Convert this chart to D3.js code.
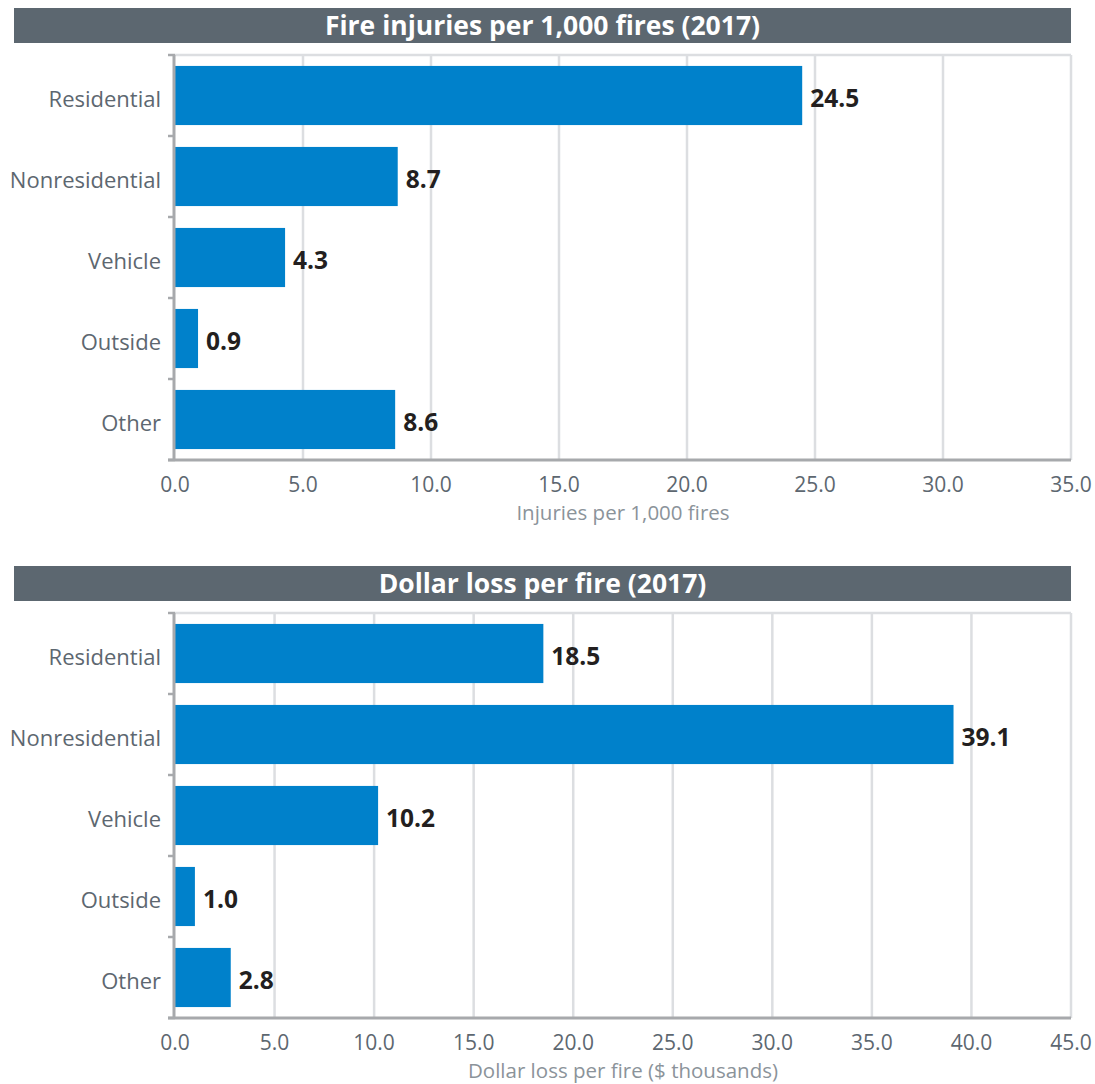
<!DOCTYPE html>
<html>
<head>
<meta charset="utf-8">
<title>Fire injuries and dollar loss</title>
<script src="https://d3js.org/d3.v7.min.js"></script>
<style>
    body { margin: 0; background: #fff; font-family: "Open Sans", sans-serif; }
    .grid line { stroke: #dcdee1; stroke-width: 2.5; }
    .cat { fill: #5d6770; font-size: 22px; }
    .tick-lab { fill: #5d6770; font-size: 21px; }
    .ax-title { fill: #8b939a; font-size: 20.5px; }
    .val { fill: #231f20; font-size: 24.5px; font-weight: bold; }
    .title { fill: #fff; font-size: 26.5px; font-weight: bold; }
</style>
</head>
<body>
<div id="chart"></div>
<script>
// data
var categories = ['Residential', 'Nonresidential', 'Vehicle', 'Outside', 'Other'];
var injuries = [24.5, 8.7, 4.3, 0.9, 8.6];
var dollarLoss = [18.5, 39.1, 10.2, 1.0, 2.8];
var injuryTicks = [0, 5, 10, 15, 20, 25, 30, 35];
var lossTicks = [0, 5, 10, 15, 20, 25, 30, 35, 40, 45];

var width = 1095, height = 1084;
var left = 175, right = 1071;

var svg = d3.select('#chart')
    .append('svg')
    .attr('width', width)
    .attr('height', height);

function drawChart(opts) {
    var g = svg.append('g');

    // title bar
    g.append('rect')
        .attr('x', 14).attr('y', opts.barTop)
        .attr('width', right - 14).attr('height', 35)
        .attr('fill', '#5c6770');
    g.append('text')
        .attr('class', 'title')
        .attr('x', (14 + right) / 2)
        .attr('y', opts.barTop + 27)
        .attr('text-anchor', 'middle')
        .text(opts.title);

    var x = d3.scaleLinear()
        .domain([0, d3.max(opts.ticks)])
        .range([left, right]);

    var y = d3.scaleBand()
        .domain(categories)
        .range([opts.top, opts.bottom])
        .paddingInner(0.27)
        .paddingOuter(0.135);

    // grid
    var grid = g.append('g').attr('class', 'grid');
    grid.selectAll('line.v')
        .data(opts.ticks.slice(1))
        .enter().append('line')
        .attr('x1', function(d) { return x(d); })
        .attr('x2', function(d) { return x(d); })
        .attr('y1', opts.top)
        .attr('y2', opts.bottom);
    grid.append('line')
        .attr('x1', left).attr('x2', right)
        .attr('y1', opts.top).attr('y2', opts.top);

    // bars
    g.selectAll('rect.bar')
        .data(opts.values)
        .enter().append('rect')
        .attr('class', 'bar')
        .attr('x', x(0))
        .attr('y', function(d, i) { return y(categories[i]); })
        .attr('width', function(d) { return x(d) - x(0); })
        .attr('height', y.bandwidth())
        .attr('fill', '#0081cb');

    g.selectAll('text.val')
        .data(opts.values)
        .enter().append('text')
        .attr('class', 'val')
        .attr('x', function(d) { return x(d) + 8; })
        .attr('y', function(d, i) { return y(categories[i]) + y.bandwidth() / 2 + 11.5; })
        .text(function(d) { return d.toFixed(1); });

    // category labels
    g.selectAll('text.cat')
        .data(categories)
        .enter().append('text')
        .attr('class', 'cat')
        .attr('x', left - 14)
        .attr('y', function(d) { return y(d) + y.bandwidth() / 2 + 11.5; })
        .attr('text-anchor', 'end')
        .text(function(d) { return d; });

    // left axis with ticks at band boundaries
    var step = y.step();
    var bounds = d3.range(categories.length + 1).map(function(i) { return opts.top + i * step; });
    g.selectAll('line.ytick')
        .data(bounds)
        .enter().append('line')
        .attr('x1', left - 7).attr('x2', left)
        .attr('y1', function(d) { return d; })
        .attr('y2', function(d) { return d; })
        .attr('stroke', '#a7a9ac')
        .attr('stroke-width', 2.5);
    g.append('line')
        .attr('x1', left - 1).attr('x2', left - 1)
        .attr('y1', opts.top).attr('y2', opts.bottom)
        .attr('stroke', '#a7a9ac')
        .attr('stroke-width', 3);
    g.append('line')
        .attr('x1', left - 7).attr('x2', right)
        .attr('y1', opts.bottom).attr('y2', opts.bottom)
        .attr('stroke', '#a7a9ac')
        .attr('stroke-width', 3);

    // x tick labels
    g.selectAll('text.tick-lab')
        .data(opts.ticks)
        .enter().append('text')
        .attr('class', 'tick-lab')
        .attr('x', function(d) { return x(d); })
        .attr('y', opts.bottom + 32)
        .attr('text-anchor', 'middle')
        .text(function(d) { return d.toFixed(1); });

    g.append('text')
        .attr('class', 'ax-title')
        .attr('x', (left + right) / 2)
        .attr('y', opts.bottom + 60)
        .attr('text-anchor', 'middle')
        .text(opts.axisTitle);
}

drawChart({
    title: 'Fire injuries per 1,000 fires (2017)',
    axisTitle: 'Injuries per 1,000 fires',
    values: injuries,
    ticks: injuryTicks,
    barTop: 8, top: 55, bottom: 460
});

drawChart({
    title: 'Dollar loss per fire (2017)',
    axisTitle: 'Dollar loss per fire ($ thousands)',
    values: dollarLoss,
    ticks: lossTicks,
    barTop: 566, top: 613, bottom: 1018
});
</script>
</body>
</html>
